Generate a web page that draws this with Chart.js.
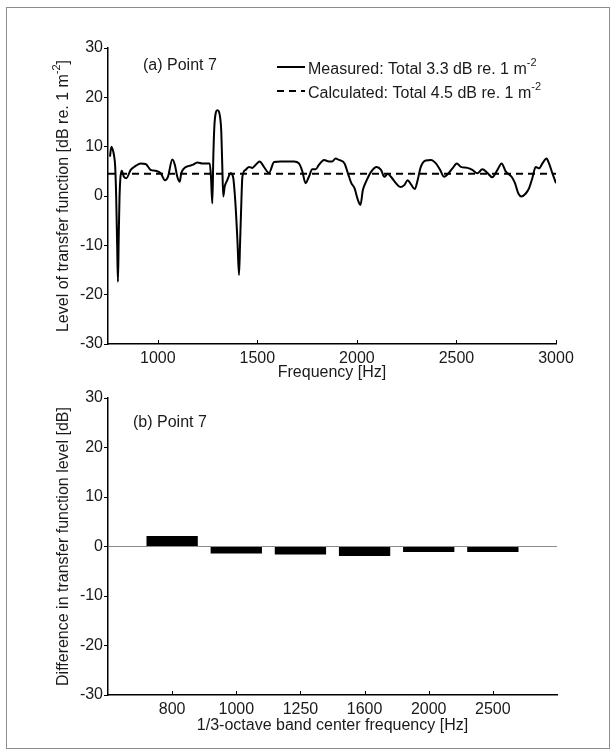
<!DOCTYPE html>
<html lang="en">
<head>
<meta charset="UTF-8">
<title>Transfer function level - Point 7</title>
<style>
  body { margin: 0; background: #fff; width: 615px; height: 754px; position: relative; overflow: hidden; }
  .frame { position: absolute; left: 6px; top: 7px; width: 602px; height: 740px; border: 1px solid #8c8c8c; }
  canvas { position: absolute; left: 0; }
  #top { top: 0; }
  #bottom { top: 385px; }
</style>
</head>
<body>
<div class="frame"></div>
<canvas id="top" width="615" height="385"></canvas>
<canvas id="bottom" width="615" height="369"></canvas>

<script src="https://cdn.jsdelivr.net/npm/chart.js"></script>
<script>
// ---- data ----
const measuredFreq = [760, 767, 772, 780, 786, 791, 796, 800, 804, 808, 812, 819, 830, 842, 864, 889, 914, 939, 964, 989,
  1015, 1036, 1051, 1073, 1086, 1098, 1110, 1118, 1132, 1157, 1174, 1199, 1224, 1261, 1267, 1274, 1279, 1284, 1292, 1299,
  1306, 1313, 1319, 1324, 1329, 1336, 1349, 1366, 1378, 1390, 1400, 1408, 1413, 1418, 1425, 1441, 1458, 1475, 1491, 1512,
  1533, 1559, 1584, 1617, 1650, 1684, 1709, 1726, 1742, 1759, 1776, 1793, 1809, 1835, 1860, 1876, 1893, 1910, 1938, 1955,
  1972, 1988, 2005, 2018, 2030, 2046, 2071, 2099, 2121, 2138, 2155, 2171, 2196, 2218, 2238, 2255, 2271, 2291, 2305, 2321,
  2346, 2372, 2397, 2418, 2438, 2460, 2480, 2502, 2522, 2555, 2580, 2605, 2630, 2655, 2680, 2706, 2727, 2747, 2777, 2794,
  2811, 2826, 2848, 2865, 2881, 2898, 2915, 2932, 2952, 2965, 2982, 3000];
const measuredLevel = [8.0, 10.0, 9.6, 8.3, 6.0, 0.0, -10.0, -17.4, -8.0, 0.0, 3.5, 5.1, 3.9, 3.6, 5.3, 6.1, 6.6, 6.5, 5.3, 5.1,
  4.6, 3.2, 3.9, 7.4, 6.3, 3.9, 2.9, 4.6, 5.6, 6.1, 6.3, 6.8, 6.6, 6.6, 4.0, -1.5, 8.0, 14.0, 17.0, 17.4,
  17.2, 16.0, 13.0, 6.0, -0.1, 1.9, 3.2, 4.6, 3.9, -1.5, -9.0, -16.0, -10.0, -3.5, 3.9, 5.3, 5.9, 5.7, 6.3, 7.0,
  5.9, 4.7, 6.9, 7.0, 7.0, 7.0, 6.6, 5.0, 2.6, 3.9, 5.4, 5.4, 6.3, 7.3, 7.0, 7.0, 7.6, 7.3, 6.6, 4.6,
  2.6, 1.6, -0.8, -1.8, 1.2, 2.9, 4.9, 5.9, 5.3, 3.9, 4.5, 3.9, 2.6, 1.8, 2.2, 3.2, 2.4, 1.4, 3.2, 5.9,
  7.2, 7.3, 6.6, 5.3, 3.9, 4.6, 5.6, 6.6, 5.9, 5.7, 5.3, 4.6, 5.4, 4.7, 3.8, 5.3, 6.6, 5.0, 3.9, 2.6,
  0.5, -0.1, 0.5, 1.6, 3.6, 5.9, 5.6, 6.6, 7.6, 6.6, 4.6, 2.6];
const calculatedFreq = [750, 3000];
const calculatedLevel = [4.5, 4.5];

const freqTicks = [1000, 1500, 2000, 2500, 3000];
const levelTicks = [-30, -20, -10, 0, 10, 20, 30];

const bandLabels = ['800', '1000', '1250', '1600', '2000', '2500'];
const bandDiff = [2.1, -1.4, -1.6, -1.9, -1.1, -1.1];

// ---- text helpers ----
const FONT = '"Liberation Sans", Arial, Helvetica, sans-serif';
const INK = '#1a1a1a';

function partFont(p) { return (p[1] ? '11px ' : '16px ') + FONT; }

function drawRich(ctx, parts, x, y, align) {
  let w = 0;
  parts.forEach(p => { ctx.font = partFont(p); w += ctx.measureText(p[0]).width; });
  let cx = align === 'center' ? x - w / 2 : x;
  ctx.textAlign = 'left';
  ctx.textBaseline = 'alphabetic';
  parts.forEach(p => {
    ctx.font = partFont(p);
    ctx.fillText(p[0], cx, p[1] ? y - 8 : y);
    cx += ctx.measureText(p[0]).width;
  });
}

// titles, panel labels and legend (need superscripts, so drawn by hand)
const decor = {
  top: {
    panel: ['(a) Point 7', 143, 70],
    yTitle: [['Level of transfer function [dB re. 1 m'], ['-2', true], [']']],
    xTitle: ['Frequency [Hz]', 33],
    legend: [
      [['Measured: Total 3.3 dB re. 1 m'], ['-2', true]],
      [['Calculated: Total 4.5 dB re. 1 m'], ['-2', true]]
    ]
  },
  bottom: {
    panel: ['(b) Point 7', 133, 41.5],
    yTitle: [['Difference in transfer function level [dB]']],
    xTitle: ['1/3-octave band center frequency [Hz]', 35]
  }
};

const decorPlugin = {
  id: 'decor',
  afterDraw(chart) {
    const d = decor[chart.canvas.id];
    const ctx = chart.ctx;
    const area = chart.chartArea;
    const xs = chart.scales.x;
    ctx.save();

    // inward ticks on the x axis
    ctx.strokeStyle = '#000';
    ctx.lineWidth = 1;
    xs.ticks.forEach(t => {
      const px = Math.round(xs.getPixelForValue(t.value)) + 0.5;
      ctx.beginPath();
      ctx.moveTo(px, area.bottom);
      ctx.lineTo(px, area.bottom - 4);
      ctx.stroke();
    });

    ctx.fillStyle = INK;
    ctx.font = '16px ' + FONT;
    ctx.textBaseline = 'alphabetic';
    ctx.textAlign = 'left';
    ctx.fillText(d.panel[0], d.panel[1], d.panel[2]);

    ctx.textAlign = 'center';
    ctx.fillText(d.xTitle[0], (area.left + area.right) / 2, area.bottom + d.xTitle[1]);

    ctx.save();
    ctx.translate(68, (area.top + area.bottom) / 2);
    ctx.rotate(-Math.PI / 2);
    drawRich(ctx, d.yTitle, 0, 0, 'center');
    ctx.restore();

    if (d.legend) {
      chart.data.datasets.forEach((ds, i) => {
        const ly = 67 + i * 24;
        ctx.strokeStyle = ds.borderColor;
        ctx.lineWidth = ds.borderWidth;
        ctx.setLineDash(ds.borderDash || []);
        ctx.beginPath();
        ctx.moveTo(277, ly);
        ctx.lineTo(305, ly);
        ctx.stroke();
        ctx.setLineDash([]);
        drawRich(ctx, d.legend[i], 308, ly + 7, 'left');
      });
    }
    ctx.restore();
  }
};

function yAxis(extraGrid) {
  return {
    min: -30, max: 30,
    afterBuildTicks: s => { s.ticks = levelTicks.map(v => ({ value: v })); },
    afterFit: s => { s.width = 108; },
    grid: Object.assign({ drawOnChartArea: false, tickLength: 4, tickColor: '#000', tickWidth: 1 }, extraGrid || {}),
    border: { color: '#000', width: 1.5 },
    ticks: { color: INK, padding: 1, font: { family: FONT, size: 16 }, callback: v => String(v) }
  };
}

// ---- (a) transfer function level ----
new Chart(document.getElementById('top'), {
  type: 'line',
  data: {
    datasets: [
      {
        label: 'Measured',
        data: measuredFreq.map((f, i) => ({ x: f, y: measuredLevel[i] })),
        borderColor: '#000', borderWidth: 2, pointRadius: 0,
        cubicInterpolationMode: 'monotone', fill: false
      },
      {
        label: 'Calculated',
        data: calculatedFreq.map((f, i) => ({ x: f, y: calculatedLevel[i] })),
        borderColor: '#000', borderWidth: 2, borderDash: [7, 5], pointRadius: 0, fill: false
      }
    ]
  },
  options: {
    responsive: false,
    animation: false,
    layout: { padding: { top: 48, right: 59, left: 0, bottom: 0 } },
    plugins: { legend: { display: false }, tooltip: { enabled: false } },
    scales: {
      x: {
        type: 'linear', min: 750, max: 3000,
        afterBuildTicks: s => { s.ticks = freqTicks.map(v => ({ value: v })); },
        afterFit: s => { s.height = 41; },
        grid: { drawOnChartArea: false, drawTicks: false },
        border: { color: '#000', width: 1.5 },
        ticks: { color: INK, padding: 5, maxRotation: 0, autoSkip: false, font: { family: FONT, size: 16 }, callback: v => String(v) }
      },
      y: yAxis()
    }
  },
  plugins: [decorPlugin]
});

// ---- (b) difference per 1/3-octave band ----
new Chart(document.getElementById('bottom'), {
  type: 'bar',
  data: {
    datasets: [{
      label: 'Difference',
      data: bandDiff.map((v, i) => ({ x: i + 1, y: v })),
      backgroundColor: '#000', borderWidth: 0,
      barPercentage: 1, categoryPercentage: 0.8
    }]
  },
  options: {
    responsive: false,
    animation: false,
    layout: { padding: { top: 13, right: 58, left: 0, bottom: 0 } },
    plugins: { legend: { display: false }, tooltip: { enabled: false } },
    scales: {
      x: {
        type: 'linear', min: 0, max: 7, offset: false,
        afterBuildTicks: s => { s.ticks = bandLabels.map((l, i) => ({ value: i + 1 })); },
        afterFit: s => { s.height = 59; },
        grid: { drawOnChartArea: false, drawTicks: false, offset: false },
        border: { color: '#000', width: 1.5 },
        ticks: { color: INK, padding: 5, maxRotation: 0, autoSkip: false, font: { family: FONT, size: 16 }, callback: v => bandLabels[v - 1] }
      },
      y: yAxis({
        drawOnChartArea: true,
        lineWidth: 1,
        color: c => (c.tick && c.tick.value === 0) ? '#8a8a8a' : 'rgba(0,0,0,0)'
      })
    }
  },
  plugins: [decorPlugin]
});
</script>
</body>
</html>
